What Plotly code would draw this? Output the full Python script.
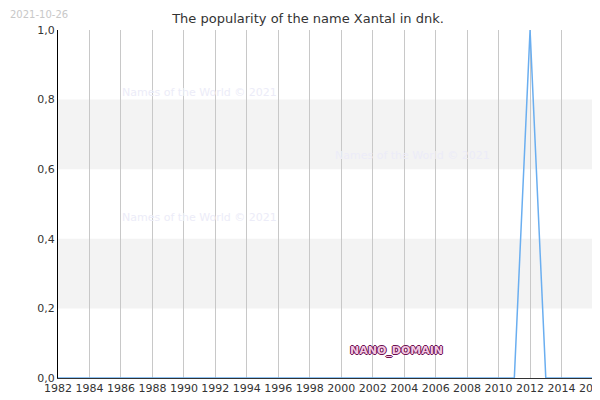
import plotly.graph_objects as go

years = list(range(1982, 2017))
values = [0] * len(years)
values[years.index(2012)] = 1.0

fig = go.Figure()
# grey bands
for y0, y1 in [(0.2, 0.4), (0.6, 0.8)]:
    fig.add_hrect(y0=y0, y1=y1, fillcolor="#f3f3f3", line_width=0, layer="below")

fig.add_trace(go.Scatter(x=years, y=values, mode="lines",
                         line=dict(color="#6aaef0", width=1.5), cliponaxis=False))

# watermarks
for x, y in [(1991, 0.82), (2004.5, 0.64), (1991, 0.46)]:
    fig.add_annotation(x=x, y=y, text="Names of the World © 2021", showarrow=False,
                       font=dict(size=11, color="#ececf8"))
fig.add_annotation(x=2003.5, y=0.078, text="<b>NANO_DOMAIN</b>", showarrow=False,
                   font=dict(size=11, color="#f3c8e2", family="DejaVu Sans",
                             shadow="1px 0 0 #6b1050, -1px 0 0 #6b1050, 0 1px 0 #6b1050, 0 -1px 0 #6b1050"))
fig.add_annotation(xref="paper", yref="paper", x=-50 / 535, y=1.065, xanchor="left", yanchor="top",
                   text="2021-10-26", showarrow=False, font=dict(size=10, color="#c8c8c8"))

fig.update_layout(
    width=600, height=400, separators=",.",
    margin=dict(l=50, r=15, t=22, b=30, autoexpand=False),
    paper_bgcolor="white", plot_bgcolor="white",
    font=dict(family="DejaVu Sans", size=11, color="#333"),
    title=dict(text="The popularity of the name Xantal in dnk.", x=0.5, y=0.985,
               font=dict(size=13, color="#333")),
    showlegend=False,
    xaxis=dict(range=[1982, 2016], dtick=2, tick0=1982, showgrid=True, automargin=False,
               gridcolor="#c8c8c8", showline=True, linecolor="#333", zeroline=False, ticks=""),
    yaxis=dict(range=[0, 1], dtick=0.2, tickformat=".1f", showgrid=False, automargin=False,
               showline=True, linecolor="#000", mirror=True, zeroline=False, ticks=""),
)
fig.write_html("out.html")
